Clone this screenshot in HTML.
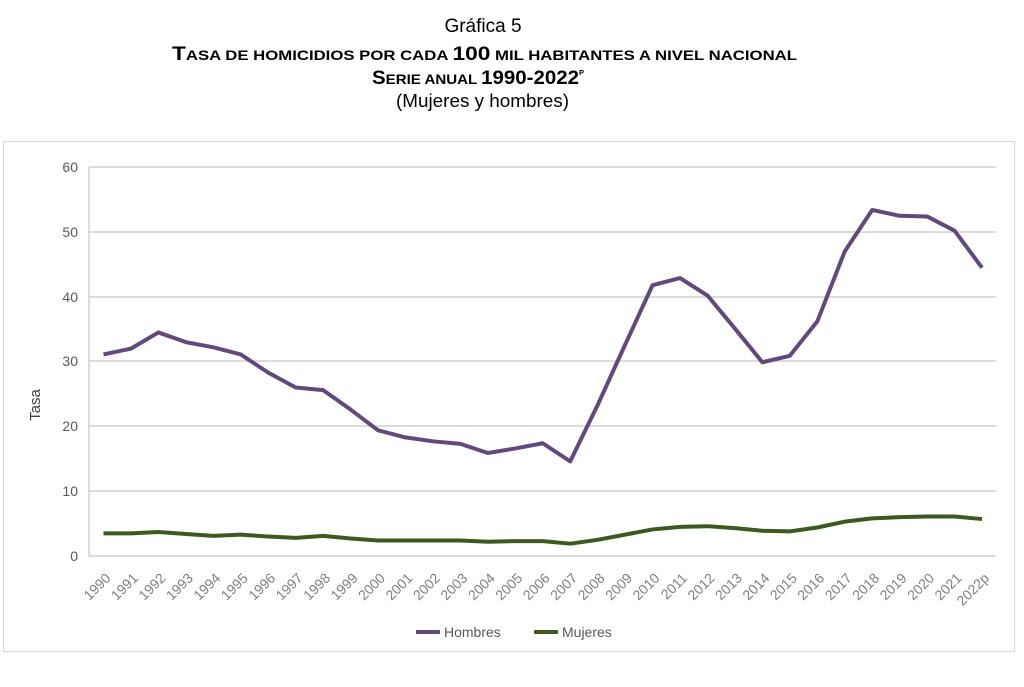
<!DOCTYPE html>
<html><head><meta charset="utf-8"><style>
body{margin:0;background:#fff;width:1024px;height:687px;overflow:hidden}
svg{display:block}
</style></head><body>
<svg width="1024" height="687" xmlns="http://www.w3.org/2000/svg" font-family="Liberation Sans, sans-serif">
<text x="483" y="32" font-size="19" text-anchor="middle" fill="#000" font-family="Liberation Sans Narrow, Liberation Sans, sans-serif">Gráfica 5</text>
<text x="172" y="60" font-weight="bold" fill="#000" font-size="14" textLength="625" lengthAdjust="spacingAndGlyphs"><tspan font-size="19">T</tspan>ASA DE HOMICIDIOS POR CADA <tspan font-size="19">100</tspan> MIL HABITANTES A NIVEL NACIONAL</text>
<text x="372" y="84" font-weight="bold" fill="#000" font-size="14" textLength="212" lengthAdjust="spacingAndGlyphs"><tspan font-size="19">S</tspan>ERIE ANUAL <tspan font-size="19">1990-2022</tspan><tspan font-size="7" dy="-9">P</tspan></text>
<text x="396" y="107" font-size="18" fill="#000" textLength="173" lengthAdjust="spacingAndGlyphs">(Mujeres y hombres)</text>
<rect x="3.5" y="141.5" width="1011" height="510" fill="none" stroke="#d9d9d9"/>
<g stroke="#d0d0d0" stroke-width="1.5">
<line x1="89" y1="167" x2="996" y2="167"/><line x1="89" y1="232" x2="996" y2="232"/>
<line x1="89" y1="297" x2="996" y2="297"/><line x1="89" y1="361" x2="996" y2="361"/>
<line x1="89" y1="426" x2="996" y2="426"/><line x1="89" y1="491" x2="996" y2="491"/>
<line x1="89" y1="556" x2="996" y2="556"/><line x1="89" y1="167" x2="89" y2="556"/>
</g>
<g font-size="14" fill="#595959" text-anchor="end">
<text x="78" y="172">60</text><text x="78" y="237">50</text><text x="78" y="302">40</text>
<text x="78" y="366">30</text><text x="78" y="431">20</text><text x="78" y="496">10</text><text x="78" y="561">0</text>
</g>
<text transform="translate(40,405) rotate(-90)" font-size="15" fill="#404040" text-anchor="middle">Tasa</text>
<g id="xl" font-size="14" fill="#7f7f7f" text-anchor="end"></g>
<polyline id="h" fill="none" stroke="#604a7b" stroke-width="4" stroke-linejoin="round"/>
<polyline id="m" fill="none" stroke="#3c5a1e" stroke-width="4" stroke-linejoin="round"/>
<line x1="416" y1="632" x2="440" y2="632" stroke="#604a7b" stroke-width="4"/>
<text x="444" y="637" font-size="14" fill="#595959">Hombres</text>
<line x1="534" y1="632" x2="558" y2="632" stroke="#3c5a1e" stroke-width="4"/>
<text x="562" y="637" font-size="14" fill="#595959">Mujeres</text>
</svg>
<script>
var H=[31.1,32,34.5,33,32.2,31.1,28.3,26,25.6,22.6,19.4,18.3,17.7,17.3,15.9,16.6,17.4,14.6,23.3,32.6,41.8,42.9,40.2,35.1,29.9,30.9,36.2,47,53.4,52.5,52.4,50.2,44.5];
var M=[3.5,3.5,3.7,3.4,3.1,3.3,3.0,2.8,3.1,2.7,2.4,2.4,2.4,2.4,2.2,2.3,2.3,1.9,2.5,3.3,4.1,4.5,4.6,4.3,3.9,3.8,4.4,5.3,5.8,6.0,6.1,6.1,5.7];
function X(i){return 103.5+i*(982-103.5)/32}function Y(v){return 556-v*6.48}
document.getElementById('h').setAttribute('points',H.map((v,i)=>X(i)+','+Y(v)).join(' '));
document.getElementById('m').setAttribute('points',M.map((v,i)=>X(i)+','+Y(v)).join(' '));
var g=document.getElementById('xl'),s='';
for(var i=0;i<33;i++){var t=i==32?'2022p':String(1990+i);var x=X(i)+8,y=579;
s+='<text transform="translate('+x+','+y+') rotate(-45)">'+t+'</text>';}
g.innerHTML=s;
</script>
</body></html>
